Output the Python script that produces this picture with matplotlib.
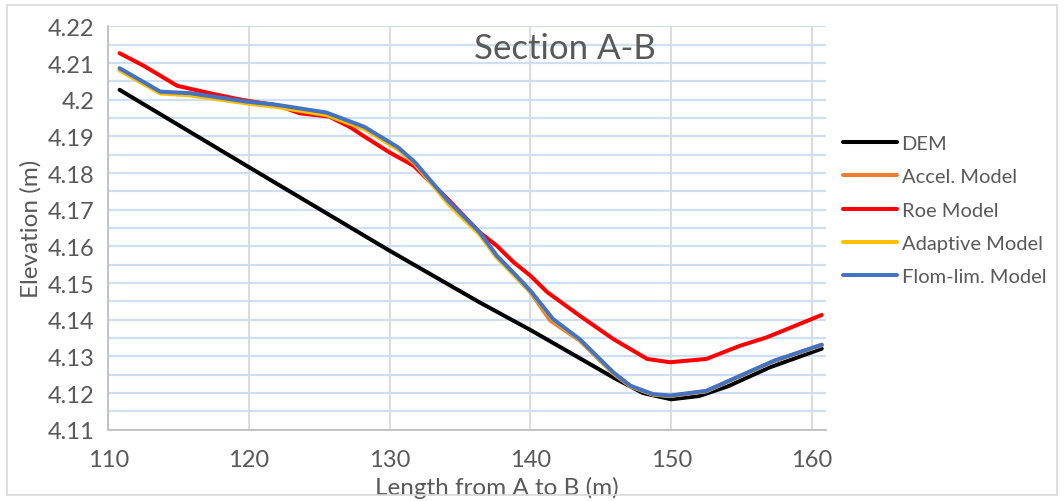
import matplotlib
matplotlib.use('Agg')
import matplotlib.pyplot as plt
from matplotlib.patches import Rectangle

# values
dem_x = [110.8, 120, 130, 136.4, 140, 146, 148, 150, 152, 154, 157, 160.7]
dem_y = [4.2027, 4.1816, 4.1588, 4.1447, 4.1372, 4.1240, 4.1200, 4.1183, 4.1192, 4.1218, 4.1270, 4.1321]

flom_x = [110.8, 113.7, 115.8, 119.8, 122.0, 125.5, 128.2, 130.6, 131.8, 133.0, 134.2, 135.2,
          136.4, 137.6, 139.0, 140.0, 141.6, 143.5, 145.9, 147.1, 148.7, 149.9, 152.5, 154.9,
          157.3, 160.7]
flom_y = [4.2086, 4.2022, 4.2018, 4.1995, 4.1986, 4.1965, 4.1926, 4.1870, 4.1829, 4.1775, 4.1722, 4.1684,
          4.1638, 4.1575, 4.1520, 4.1479, 4.1402, 4.1347, 4.1256, 4.1220, 4.1197, 4.1193, 4.1206, 4.1247,
          4.1288, 4.1332]

accel_x = [110.8, 113.7, 115.8, 119.8, 122.0, 125.5, 128.2, 130.6, 131.8, 133.0, 134.2, 135.2,
           136.4, 137.6, 139.0, 140.0, 141.4, 143.5, 145.9, 147.1, 148.7, 149.9, 152.5, 154.9,
           157.3, 160.7]
accel_y = [4.2082, 4.2020, 4.2016, 4.1998, 4.1984, 4.1962, 4.1922, 4.1866, 4.1826, 4.1772, 4.1718, 4.1680,
           4.1634, 4.1571, 4.1516, 4.1475, 4.1398, 4.1343, 4.1253, 4.1218, 4.1196, 4.1192, 4.1205, 4.1246,
           4.1287, 4.1331]

roe_x = [110.8, 112.5, 114.9, 117.2, 119.8, 122.0, 123.6, 125.7, 127.2, 128.1, 130.0, 131.7,
         132.9, 134.1, 136.4, 137.6, 138.8, 140.0, 141.2, 143.5, 145.9, 148.3, 149.9, 152.5,
         154.9, 156.8, 160.7]
roe_y = [4.2127, 4.2093, 4.2038, 4.2018, 4.1997, 4.1985, 4.1963, 4.1954, 4.1925, 4.1902, 4.1856, 4.1820,
         4.1775, 4.1730, 4.1638, 4.1602, 4.1557, 4.1520, 4.1475, 4.1411, 4.1347, 4.1293, 4.1284, 4.1293,
         4.1329, 4.1352, 4.1413]

adapt_x = [110.8, 113.7, 115.8, 119.8, 122.0, 125.5, 128.2, 130.6, 131.8, 133.0, 134.2, 135.2,
           136.4, 137.6, 139.0, 140.0, 141.6, 143.5, 145.9, 147.1, 148.7, 149.9, 152.5, 154.9,
           157.3, 160.7]
adapt_y = [4.2080, 4.2017, 4.2012, 4.1990, 4.1980, 4.1958, 4.1920, 4.1864, 4.1825, 4.1770, 4.1714, 4.1676,
           4.1632, 4.1570, 4.1515, 4.1476, 4.1400, 4.1345, 4.1254, 4.1219, 4.1196, 4.1192, 4.1205, 4.1246,
           4.1287, 4.1331]

x_ticks = [110, 120, 130, 140, 150, 160]
y_ticks = [4.11, 4.12, 4.13, 4.14, 4.15, 4.16, 4.17, 4.18, 4.19, 4.2, 4.21, 4.22]
y_labels = ['4.11', '4.12', '4.13', '4.14', '4.15', '4.16', '4.17', '4.18', '4.19', '4.2', '4.21', '4.22']
y_minor = [4.115, 4.125, 4.135, 4.145, 4.155, 4.165, 4.175, 4.185, 4.195, 4.205, 4.215]

plt.rcParams['font.family'] = ['Lato', 'DejaVu Sans']
txt = '#595959'

fig = plt.figure(figsize=(10.64, 5.02), dpi=100)
ax = fig.add_axes([0.1018, 0.142, 0.6745, 0.8034])

fig.patches.append(Rectangle((0.0066, 0.012), 0.987, 0.976, transform=fig.transFigure,
                             fill=False, edgecolor='#d9d9d9', linewidth=1.2))

ax.plot(dem_x, dem_y, color='black', lw=2.9, label='DEM', solid_capstyle='round')
ax.plot(accel_x, accel_y, color='#ED7D31', lw=2.9, label='Accel. Model', solid_capstyle='round')
ax.plot(roe_x, roe_y, color='#FF0000', lw=2.9, label='Roe Model', solid_capstyle='round')
ax.plot(adapt_x, adapt_y, color='#FFC000', lw=2.9, label='Adaptive Model', solid_capstyle='round')
ax.plot(flom_x, flom_y, color='#4472C4', lw=2.9, label='Flom-lim. Model', solid_capstyle='round')

ax.set_xlim(110, 161.0)
ax.set_ylim(4.11, 4.22)
ax.set_xticks(x_ticks)
ax.set_yticks(y_ticks)
ax.set_yticklabels(y_labels)
ax.set_yticks(y_minor, minor=True)

ax.grid(True, axis='y', which='both', color='#cfdff3', lw=1.6)
ax.grid(True, axis='x', which='major', color='#d9d9d9', lw=1.3)
ax.set_axisbelow(True)

for s in ['top', 'right']:
    ax.spines[s].set_visible(False)
for s in ['left', 'bottom']:
    ax.spines[s].set_color('#bfbfbf')
    ax.spines[s].set_linewidth(1.3)

ax.tick_params(axis='both', which='both', length=0, labelsize=17, colors=txt, pad=10)
ax.tick_params(axis='x', pad=14)
ax.set_xlabel('Length from A to B (m)', fontsize=17.5, color=txt, labelpad=4)
ax.xaxis.label.set_x(0.5416)
ax.set_ylabel('Elevation (m)', fontsize=17.5, color=txt, labelpad=4)

fig.text(0.531, 0.903, 'Section A-B', fontsize=25, color=txt, ha='center', va='center')

leg = ax.legend(loc='upper left', bbox_to_anchor=(1.0, 0.773), frameon=False, fontsize=14.5,
                handlelength=2.7, handletextpad=0.2, labelspacing=0.8, borderaxespad=0.45)
for t in leg.get_texts():
    t.set_color(txt)

fig.savefig('out.png', dpi=100)
